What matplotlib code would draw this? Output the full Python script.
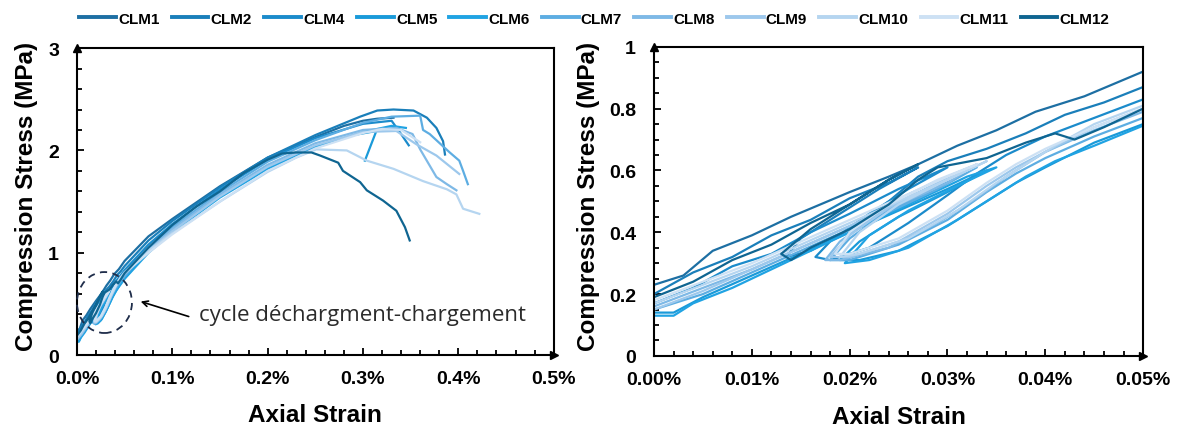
import matplotlib.pyplot as plt
from matplotlib.patches import Ellipse
from matplotlib.ticker import MultipleLocator, FuncFormatter

plt.rcParams['font.family'] = ['Liberation Sans', 'DejaVu Sans']
plt.rcParams['font.weight'] = 'bold'

# strain in %, stress in MPa
clm1_strain = [0, 0.003, 0.006, 0.010, 0.014, 0.017, 0.020, 0.024, 0.027, 0.031, 0.035, 0.039, 0.044, 0.047, 0.05,
               0.075, 0.10, 0.15, 0.20, 0.25, 0.28, 0.30, 0.315, 0.332]
clm1_stress = [0.23, 0.26, 0.34, 0.39, 0.45, 0.49, 0.53, 0.58, 0.62, 0.68, 0.73, 0.79, 0.84, 0.88, 0.92,
               1.16, 1.33, 1.65, 1.93, 2.13, 2.24, 2.29, 2.31, 2.32]

clm2_strain = [0, 0.004, 0.008, 0.012, 0.016, 0.020, 0.024, 0.027, 0.023, 0.019, 0.015, 0.0135, 0.016, 0.020, 0.024,
               0.027, 0.030, 0.034, 0.038, 0.042, 0.046, 0.05, 0.075, 0.10, 0.15, 0.20, 0.25, 0.297, 0.315, 0.332,
               0.353, 0.367, 0.377, 0.384, 0.386]
clm2_stress = [0.20, 0.27, 0.32, 0.39, 0.44, 0.51, 0.56, 0.61, 0.54, 0.46, 0.38, 0.32, 0.34, 0.41, 0.50,
               0.58, 0.63, 0.67, 0.72, 0.78, 0.82, 0.87, 1.12, 1.31, 1.64, 1.93, 2.15, 2.33, 2.39, 2.40,
               2.39, 2.32, 2.22, 2.09, 1.96]

clm4_strain = [0, 0.004, 0.008, 0.012, 0.016, 0.020, 0.025, 0.030, 0.026, 0.022, 0.018, 0.0165, 0.018, 0.022, 0.026,
               0.030, 0.033, 0.036, 0.040, 0.045, 0.05, 0.075, 0.10, 0.15, 0.20, 0.25, 0.30, 0.33, 0.340, 0.348]
clm4_stress = [0.17, 0.22, 0.29, 0.33, 0.40, 0.46, 0.54, 0.61, 0.54, 0.46, 0.37, 0.32, 0.31, 0.35, 0.43,
               0.52, 0.59, 0.65, 0.71, 0.77, 0.83, 1.08, 1.28, 1.62, 1.91, 2.12, 2.26, 2.29, 2.16, 2.05]

clm5_strain = [0, 0.002, 0.005, 0.010, 0.015, 0.020, 0.025, 0.030, 0.034, 0.030, 0.025, 0.021, 0.019, 0.021, 0.025,
               0.030, 0.034, 0.037, 0.040, 0.045, 0.05, 0.075, 0.10, 0.15, 0.20, 0.25, 0.29, 0.314, 0.302]
clm5_stress = [0.14, 0.14, 0.19, 0.26, 0.33, 0.40, 0.47, 0.54, 0.60, 0.53, 0.45, 0.37, 0.31, 0.31, 0.34,
               0.42, 0.50, 0.56, 0.61, 0.69, 0.75, 1.02, 1.22, 1.55, 1.84, 2.04, 2.15, 2.19, 1.90]

clm6_strain = [0, 0.002, 0.004, 0.008, 0.012, 0.016, 0.020, 0.024, 0.028, 0.032, 0.035, 0.031, 0.026, 0.022, 0.0195,
               0.022, 0.026, 0.031, 0.035, 0.038, 0.041, 0.045, 0.05, 0.075, 0.10, 0.15, 0.20, 0.25, 0.30, 0.33,
               0.345]
clm6_stress = [0.13, 0.13, 0.17, 0.22, 0.28, 0.34, 0.40, 0.46, 0.52, 0.58, 0.61, 0.55, 0.47, 0.39, 0.30,
               0.31, 0.35, 0.44, 0.52, 0.58, 0.63, 0.68, 0.745, 1.00, 1.20, 1.54, 1.82, 2.03, 2.18, 2.24,
               2.22]

clm7_strain = [0, 0.005, 0.010, 0.015, 0.020, 0.025, 0.029, 0.033, 0.029, 0.024, 0.020, 0.018, 0.020, 0.025, 0.030,
               0.034, 0.037, 0.040, 0.045, 0.05, 0.075, 0.10, 0.15, 0.20, 0.25, 0.30, 0.33, 0.36, 0.363, 0.370,
               0.391, 0.401, 0.405, 0.410]
clm7_stress = [0.15, 0.20, 0.27, 0.34, 0.41, 0.48, 0.54, 0.61, 0.55, 0.47, 0.38, 0.31, 0.31, 0.36, 0.44,
               0.53, 0.59, 0.64, 0.71, 0.77, 1.04, 1.25, 1.59, 1.89, 2.10, 2.27, 2.33, 2.34, 2.20, 2.16,
               1.98, 1.90, 1.80, 1.67]

clm8_strain = [0, 0.005, 0.010, 0.015, 0.020, 0.025, 0.030, 0.032, 0.028, 0.023, 0.019, 0.0175, 0.019, 0.024, 0.029,
               0.033, 0.036, 0.040, 0.045, 0.05, 0.075, 0.10, 0.15, 0.20, 0.25, 0.30, 0.335, 0.352, 0.36,
               0.377, 0.388, 0.398]
clm8_stress = [0.16, 0.22, 0.28, 0.35, 0.42, 0.49, 0.56, 0.60, 0.54, 0.46, 0.37, 0.31, 0.31, 0.35, 0.43,
               0.51, 0.58, 0.66, 0.73, 0.79, 1.03, 1.23, 1.57, 1.86, 2.07, 2.20, 2.22, 2.16, 2.01,
               1.74, 1.67, 1.61]

clm9_strain = [0, 0.005, 0.010, 0.015, 0.020, 0.025, 0.030, 0.033, 0.029, 0.024, 0.020, 0.018, 0.020, 0.025, 0.030,
               0.034, 0.037, 0.040, 0.045, 0.05, 0.075, 0.10, 0.15, 0.20, 0.25, 0.30, 0.335, 0.356, 0.377, 0.401]
clm9_stress = [0.15, 0.21, 0.28, 0.35, 0.42, 0.50, 0.57, 0.62, 0.56, 0.48, 0.39, 0.32, 0.32, 0.37, 0.46,
               0.55, 0.61, 0.66, 0.74, 0.80, 1.02, 1.21, 1.55, 1.84, 2.05, 2.18, 2.19, 2.06, 1.95, 1.77]

clm10_strain = [0, 0.005, 0.010, 0.015, 0.020, 0.025, 0.030, 0.034, 0.030, 0.025, 0.021, 0.019, 0.021, 0.026, 0.031,
                0.035, 0.038, 0.041, 0.045, 0.05, 0.075, 0.10, 0.15, 0.20, 0.23, 0.251, 0.283, 0.304, 0.332, 0.363,
                0.388, 0.398, 0.405, 0.422]
clm10_stress = [0.17, 0.23, 0.29, 0.36, 0.43, 0.50, 0.57, 0.63, 0.57, 0.49, 0.40, 0.32, 0.33, 0.38, 0.47,
                0.56, 0.62, 0.68, 0.75, 0.81, 1.02, 1.19, 1.50, 1.79, 1.93, 2.01, 2.00, 1.90, 1.82, 1.70,
                1.62, 1.57, 1.43, 1.38]

clm11_strain = [0, 0.005, 0.010, 0.015, 0.020, 0.025, 0.030, 0.033, 0.029, 0.024, 0.020, 0.0185, 0.020, 0.025, 0.030,
                0.034, 0.037, 0.040, 0.045, 0.05, 0.075, 0.10, 0.15, 0.20, 0.25, 0.30, 0.32, 0.34, 0.36]
clm11_stress = [0.18, 0.24, 0.30, 0.37, 0.44, 0.51, 0.58, 0.62, 0.57, 0.49, 0.40, 0.33, 0.33, 0.38, 0.47,
                0.56, 0.62, 0.67, 0.74, 0.80, 1.00, 1.18, 1.50, 1.80, 2.02, 2.17, 2.21, 2.20, 2.08]

clm12_strain = [0, 0.004, 0.008, 0.012, 0.016, 0.020, 0.024, 0.027, 0.024, 0.020, 0.016, 0.013, 0.014, 0.016, 0.020,
                0.024, 0.027, 0.029, 0.034, 0.038, 0.041, 0.043, 0.046, 0.05, 0.075, 0.10, 0.125, 0.15, 0.175, 0.20,
                0.215, 0.23, 0.246, 0.255, 0.274, 0.279, 0.297, 0.304, 0.321, 0.335, 0.344, 0.349]
clm12_stress = [0.19, 0.24, 0.31, 0.36, 0.43, 0.49, 0.57, 0.62, 0.57, 0.49, 0.41, 0.33, 0.31, 0.35, 0.41,
                0.49, 0.57, 0.61, 0.64, 0.69, 0.72, 0.70, 0.74, 0.80, 1.05, 1.27, 1.45, 1.60, 1.78, 1.91,
                1.97, 1.98, 1.98, 1.95, 1.88, 1.80, 1.69, 1.61, 1.51, 1.41, 1.25, 1.12]

labels = ['CLM1', 'CLM2', 'CLM4', 'CLM5', 'CLM6', 'CLM7', 'CLM8', 'CLM9', 'CLM10', 'CLM11', 'CLM12']
colors = ['#1d6fa3', '#1a7fba', '#1b8bcb', '#1a9ad9', '#20a3e3', '#5dade2', '#7eb9e6', '#9dc8ec',
          '#b5d5f0', '#cde1f4', '#0f6591']
strains = [clm1_strain, clm2_strain, clm4_strain, clm5_strain, clm6_strain, clm7_strain, clm8_strain,
           clm9_strain, clm10_strain, clm11_strain, clm12_strain]
stresses = [clm1_stress, clm2_stress, clm4_stress, clm5_stress, clm6_stress, clm7_stress, clm8_stress,
            clm9_stress, clm10_stress, clm11_stress, clm12_stress]

fig = plt.figure(figsize=(11.77, 4.31), dpi=100)
ax1 = fig.add_axes([0.0654, 0.174, 0.405, 0.712])
ax2 = fig.add_axes([0.5557, 0.172, 0.4155, 0.717])

for ax in (ax1, ax2):
    for x, y, c, lab in zip(strains, stresses, colors, labels):
        ax.plot(x, y, color=c, lw=1.6, label=lab)

ax1.set_xlim(0, 0.5)
ax1.set_ylim(0, 3)
ax1.xaxis.set_major_locator(MultipleLocator(0.1))
ax1.xaxis.set_minor_locator(MultipleLocator(0.02))
ax1.yaxis.set_major_locator(MultipleLocator(1))
ax1.yaxis.set_minor_locator(MultipleLocator(0.2))
ax1.xaxis.set_major_formatter(FuncFormatter(lambda v, p: f'{v:.1f}%'))
ax1.yaxis.set_major_formatter(FuncFormatter(lambda v, p: f'{v:g}'))

ax2.set_xlim(0, 0.05)
ax2.set_ylim(0, 1)
ax2.xaxis.set_major_locator(MultipleLocator(0.01))
ax2.xaxis.set_minor_locator(MultipleLocator(0.002))
ax2.yaxis.set_major_locator(MultipleLocator(0.2))
ax2.yaxis.set_minor_locator(MultipleLocator(0.05))
ax2.xaxis.set_major_formatter(FuncFormatter(lambda v, p: f'{v:.2f}%'))
ax2.yaxis.set_major_formatter(FuncFormatter(lambda v, p: f'{v:g}'))

for ax, ylx in ((ax1, -0.105), (ax2, -0.135)):
    for s in ax.spines.values():
        s.set_linewidth(1.5)
    ax.tick_params(which='both', direction='in', top=False, right=False, width=1.3, labelsize=14)
    ax.tick_params(which='major', length=5)
    ax.tick_params(which='minor', length=3.5)
    ax.tick_params(axis='x', which='major', pad=11)
    ax.tick_params(axis='y', which='major', pad=13)
    ax.set_xlabel('Axial Strain', fontsize=17.5, fontweight='bold')
    ax.set_ylabel('Compression Stress (MPa)', fontsize=17.5, fontweight='bold')
    ax.xaxis.set_label_coords(0.5, -0.195)
    ax.xaxis.label.set_va('center')
    ax.yaxis.set_label_coords(ylx, 0.52)
    ax.yaxis.label.set_va('center')
    # arrow heads on the axes
    ax.plot(0, 1, '^', color='black', ms=6, transform=ax.transAxes, clip_on=False)
    ax.plot(1, 0, '>', color='black', ms=6, transform=ax.transAxes, clip_on=False)

# annotation
ell = Ellipse((0.0288, 0.513), 0.0577, 0.596, fill=False, ls=(0, (4, 3)), lw=1.3,
              edgecolor='#1f2d4a', clip_on=False, zorder=5)
ax1.add_patch(ell)
ax1.annotate('', xy=(0.064, 0.531), xytext=(0.120, 0.368),
             arrowprops=dict(arrowstyle='->', color='black', lw=1.2))
ax1.text(0.128, 0.40, 'cycle déchargment-chargement', fontsize=16, family=['Open Sans', 'DejaVu Sans'],
         fontweight='normal', color='#2b2b2b', va='center', ha='left')

leg = fig.legend(*ax1.get_legend_handles_labels(), loc='center', bbox_to_anchor=(0.505, 0.954), ncol=11,
                 frameon=False, prop=dict(size=11, weight='bold'), handlelength=2.4,
                 handletextpad=0.15, columnspacing=0.8)
for h in leg.legend_handles:
    h.set_linewidth(2.8)

fig.savefig('out.png', dpi=100)
